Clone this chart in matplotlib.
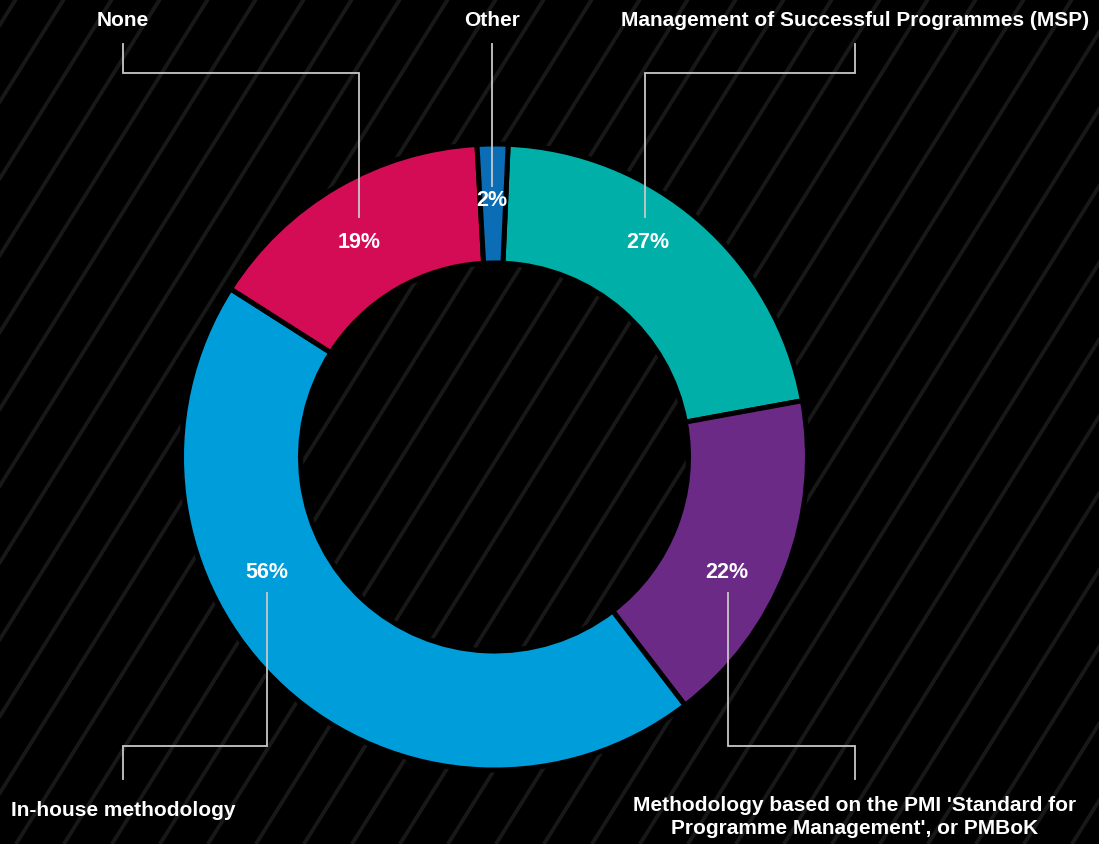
import numpy as np
import matplotlib
matplotlib.use('Agg')
import matplotlib.pyplot as plt

# Dados do gráfico (respostas múltiplas, soma > 100%)
categories = [
    'Management of Successful Programmes (MSP)',
    "Methodology based on the PMI 'Standard for\nProgramme Management', or PMBoK",
    'In-house methodology',
    'None',
    'Other',
]
values = [27, 22, 56, 19, 2]
colors = ['#00b0a8', '#6c2a87', '#009ddb', '#d40c55', '#0a6db5']

W, H = 1099, 845
BG = '#000000'
LINE = '#c8c8c8'

plt.rcParams['font.family'] = ['Liberation Sans', 'DejaVu Sans']

fig = plt.figure(figsize=(W / 100, H / 100), dpi=100, facecolor=BG)
ax = fig.add_axes([0, 0, 1, 1])
ax.set_facecolor(BG)


def Y(y):
    # converte coordenada de imagem (y para baixo) para coordenada do gráfico
    return H - y


# Textura de fundo: listras diagonais
ang = np.deg2rad(58)
step = 48
for x0 in np.arange(-800, W + 100, step):
    ax.plot([x0, x0 + H / np.tan(ang)], [0, H], color='#181818', lw=2.8,
            solid_capstyle='butt', zorder=0)

# Donut
cx, cy = 494.5, Y(458)
wedges, _ = ax.pie(values, colors=colors, startangle=87.5, counterclock=False,
                   center=(cx, cy), radius=313,
                   wedgeprops=dict(width=119, edgecolor=BG, linewidth=3.6))
for w in wedges:
    w.set_zorder(2)

ax.set_xlim(0, W)
ax.set_ylim(0, H)
ax.set_aspect('equal')
ax.axis('off')

# Posições dos rótulos de percentagem (layout)
pct_pos = [(648, 243), (727, 572), (267, 572), (359, 243), (492, 200)]
for v, (px, py) in zip(values, pct_pos):
    ax.text(px, Y(py), f'{v}%', color='white', fontsize=15.5, fontweight='bold',
            ha='center', va='center', zorder=4)

# Linhas de chamada
leaders = [
    [(855, 45), (855, 74), (645, 74), (645, 218)],
    [(728, 594), (728, 747), (855, 747), (855, 780)],
    [(267, 594), (267, 747), (123, 747), (123, 780)],
    [(123, 45), (123, 74), (359, 74), (359, 218)],
    [(492, 45), (492, 187)],
]
for pts in leaders:
    xs = [p[0] for p in pts]
    ys = [Y(p[1]) for p in pts]
    ax.plot(xs, ys, color=LINE, lw=1.3, zorder=3, solid_joinstyle='miter')

# Rótulos das categorias
label_pos = [(855, 20), (855, 817), (123, 811), (123, 20), (492, 20)]
for cat, (lx, ly) in zip(categories, label_pos):
    ax.text(lx, Y(ly), cat, color='white', fontsize=15, fontweight='bold',
            ha='center', va='center', linespacing=1.3, zorder=4)

fig.savefig('out.png', dpi=100, facecolor=BG)
plt.close(fig)
